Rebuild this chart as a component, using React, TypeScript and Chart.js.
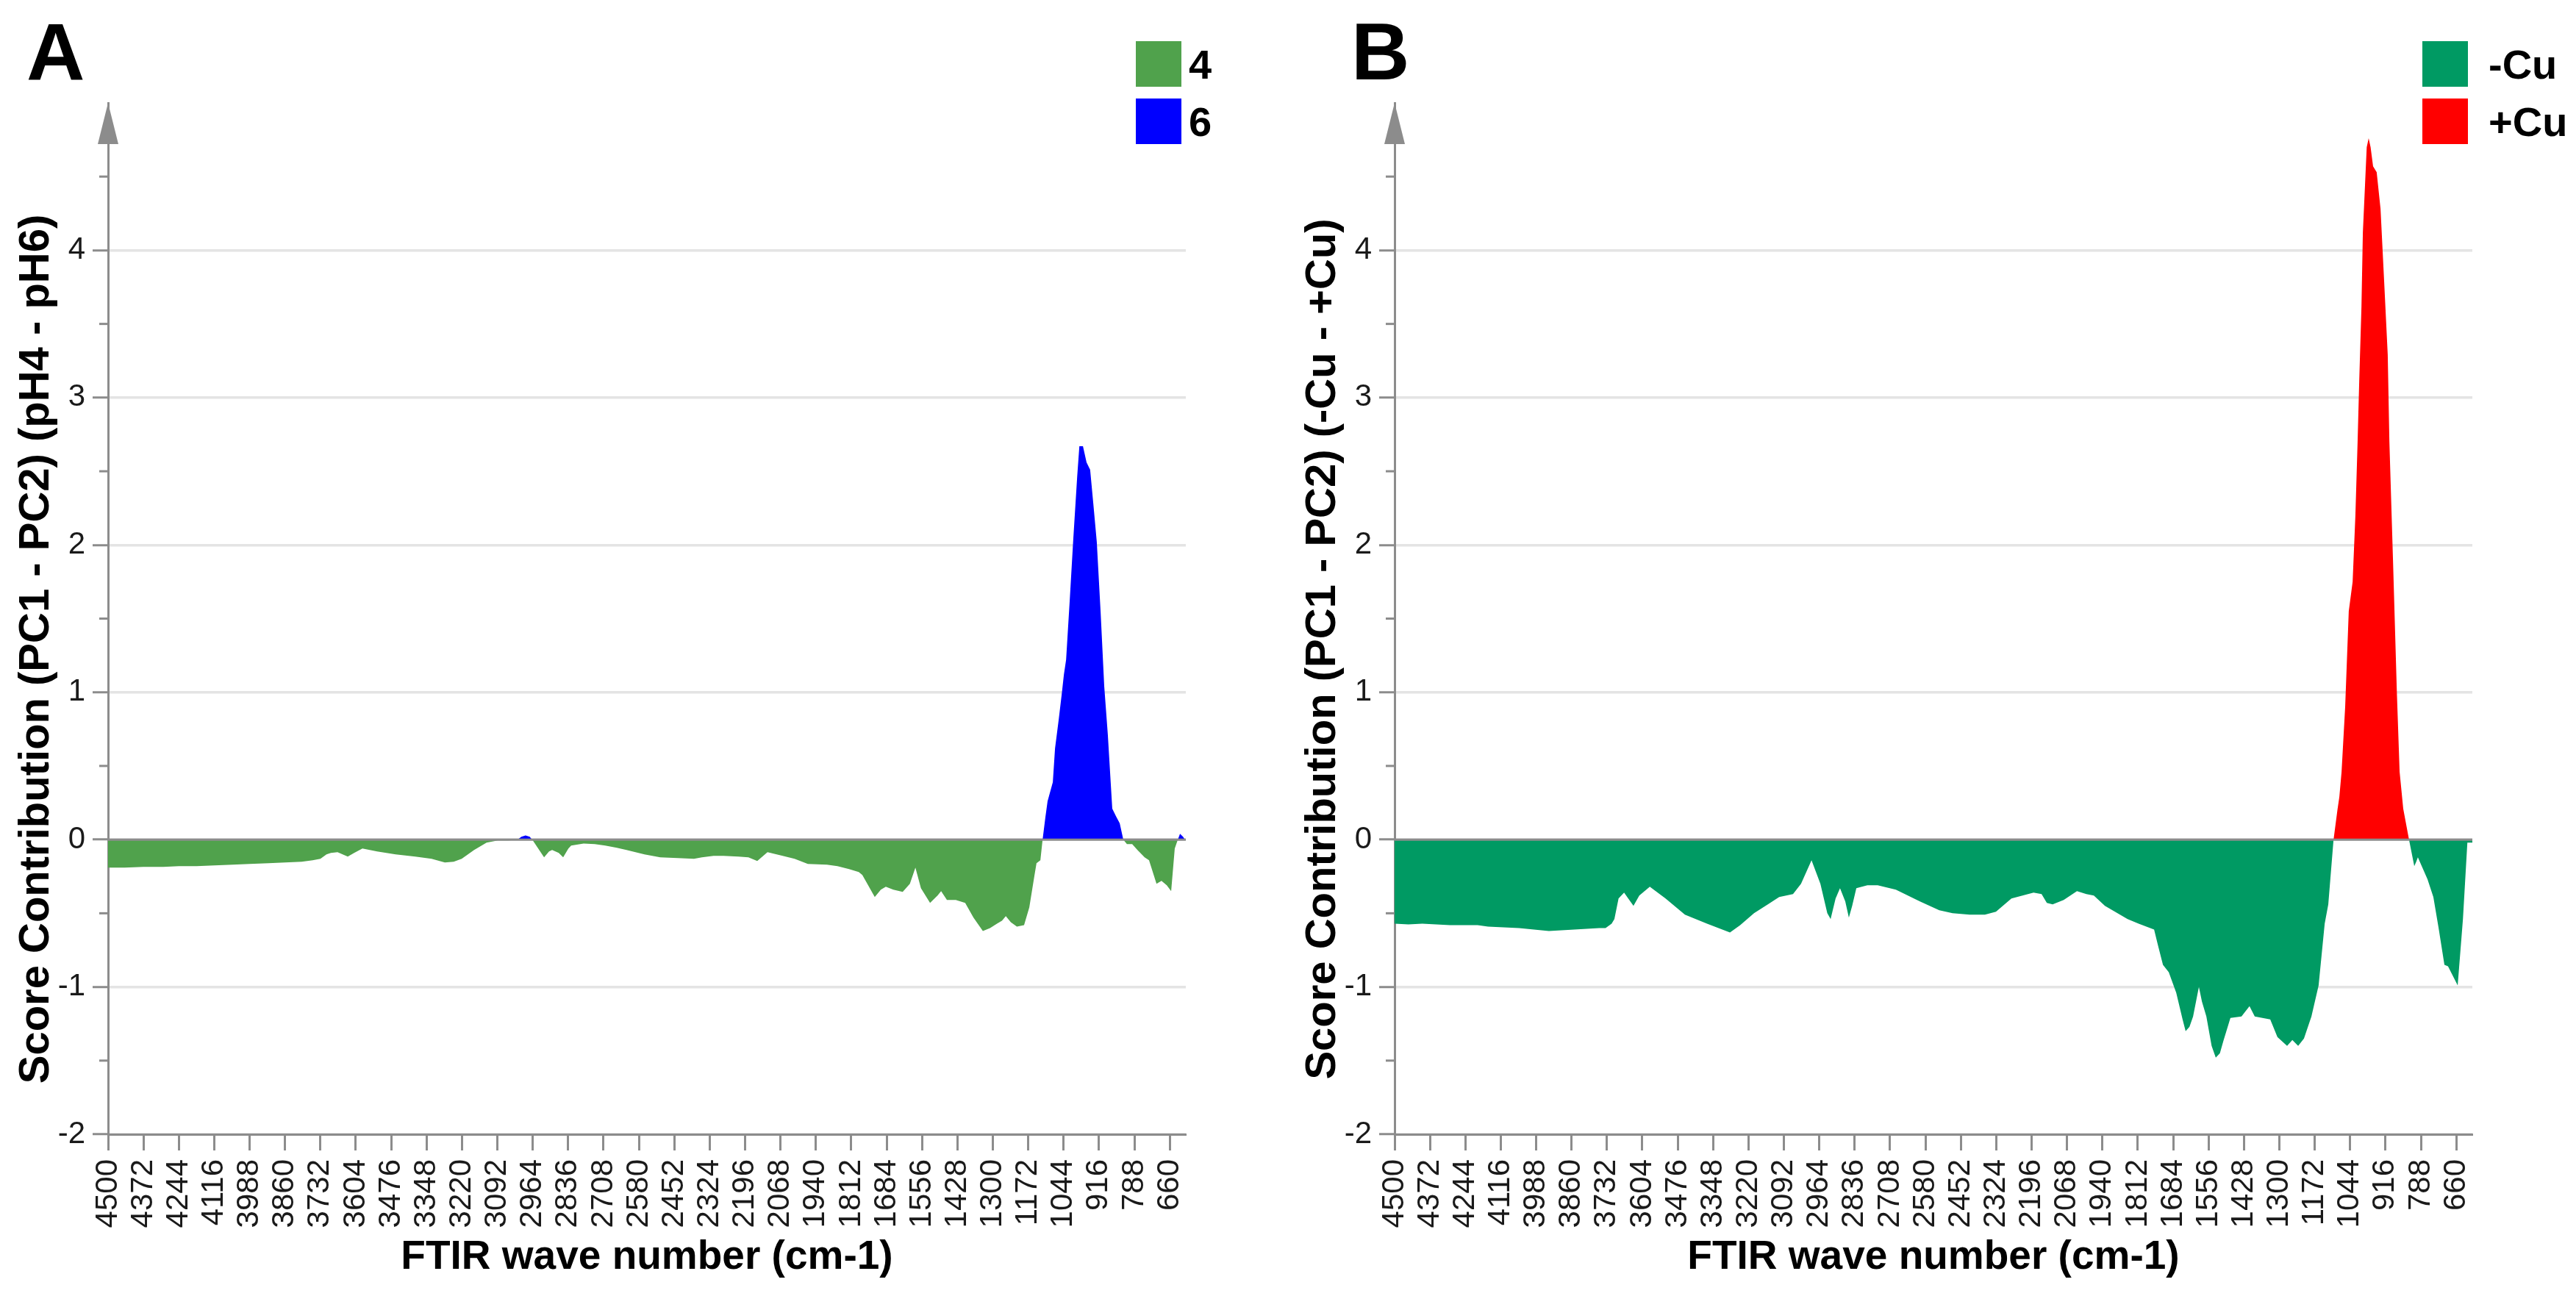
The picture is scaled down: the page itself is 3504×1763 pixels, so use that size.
import React, { useEffect, useRef } from 'react';
import { Chart, registerables } from 'chart.js';

Chart.register(...registerables);

// ---------------- data ----------------
const xTickLabels = [4500, 4372, 4244, 4116, 3988, 3860, 3732, 3604, 3476, 3348, 3220, 3092, 2964, 2836, 2708, 2580, 2452, 2324, 2196, 2068, 1940, 1812, 1684, 1556, 1428, 1300, 1172, 1044, 916, 788, 660];
const yTickValues = [-2, -1.5, -1, -0.5, 0, 0.5, 1, 1.5, 2, 2.5, 3, 3.5, 4, 4.5];

// [wave number, score contribution]
const pointsA: [number, number][] = [
  [4500, -0.19], [4440, -0.19], [4372, -0.185], [4300, -0.185], [4244, -0.18], [4180, -0.18], [4116, -0.175],
  [4050, -0.17], [3988, -0.165], [3920, -0.16], [3860, -0.155], [3800, -0.15], [3760, -0.14], [3732, -0.13],
  [3710, -0.10], [3694, -0.09], [3670, -0.085], [3633, -0.115], [3610, -0.09], [3580, -0.06], [3527, -0.08],
  [3460, -0.10], [3389, -0.115], [3330, -0.13], [3282, -0.155], [3250, -0.15], [3221, -0.13], [3176, -0.07],
  [3131, -0.02], [3090, -0.006], [3053, -0.005], [3020, -0.002], [3005, 0.02], [2990, 0.028], [2975, 0.02],
  [2962, -0.01], [2923, -0.12], [2905, -0.08], [2894, -0.07], [2870, -0.09], [2854, -0.12], [2835, -0.06],
  [2825, -0.04], [2780, -0.027], [2740, -0.03], [2702, -0.04], [2660, -0.055], [2625, -0.07], [2560, -0.10],
  [2503, -0.12], [2440, -0.125], [2381, -0.13], [2352, -0.12], [2310, -0.11], [2274, -0.11], [2220, -0.115],
  [2184, -0.12], [2152, -0.145], [2115, -0.085], [2060, -0.11], [2017, -0.13], [1969, -0.165], [1900, -0.17],
  [1862, -0.18], [1820, -0.20], [1785, -0.22], [1772, -0.24], [1727, -0.39], [1705, -0.34], [1687, -0.32],
  [1660, -0.34], [1626, -0.355], [1600, -0.30], [1580, -0.19], [1560, -0.33], [1527, -0.43], [1500, -0.38],
  [1487, -0.35], [1466, -0.41], [1434, -0.41], [1400, -0.43], [1370, -0.53], [1336, -0.62], [1310, -0.60],
  [1285, -0.57], [1267, -0.55], [1253, -0.52], [1235, -0.56], [1213, -0.59], [1187, -0.58], [1168, -0.46],
  [1150, -0.25], [1142, -0.16], [1128, -0.14], [1120, 0], [1110, 0.15], [1102, 0.26], [1083, 0.39],
  [1075, 0.62], [1062, 0.81], [1050, 1.0], [1043, 1.12], [1035, 1.22], [1022, 1.62], [1009, 2.04],
  [995, 2.46], [987, 2.67], [974, 2.67], [961, 2.56], [948, 2.51], [937, 2.29], [924, 2.02], [910, 1.54],
  [897, 1.04], [884, 0.71], [868, 0.21], [855, 0.16], [841, 0.11], [828, 0], [815, -0.03], [796, -0.03],
  [777, -0.07], [751, -0.12], [735, -0.14], [708, -0.30], [690, -0.28], [671, -0.31], [655, -0.35],
  [642, -0.06], [631, 0], [623, 0.04], [612, 0.02], [605, 0],
];

const pointsB: [number, number][] = [
  [4500, -0.57], [4450, -0.575], [4400, -0.57], [4300, -0.58], [4200, -0.58], [4162, -0.59], [4050, -0.60],
  [3942, -0.62], [3850, -0.61], [3760, -0.60], [3737, -0.60], [3715, -0.57], [3705, -0.54], [3690, -0.40],
  [3670, -0.36], [3655, -0.40], [3636, -0.45], [3615, -0.38], [3577, -0.32], [3520, -0.40], [3450, -0.51],
  [3370, -0.57], [3287, -0.63], [3250, -0.58], [3200, -0.50], [3150, -0.44], [3109, -0.39], [3059, -0.37],
  [3030, -0.30], [2992, -0.14], [2960, -0.30], [2935, -0.50], [2923, -0.54], [2905, -0.40], [2889, -0.33],
  [2870, -0.42], [2857, -0.53], [2845, -0.45], [2830, -0.33], [2790, -0.31], [2753, -0.31], [2687, -0.34],
  [2600, -0.42], [2530, -0.48], [2482, -0.50], [2420, -0.51], [2365, -0.51], [2325, -0.49], [2269, -0.40],
  [2189, -0.36], [2160, -0.37], [2141, -0.43], [2120, -0.44], [2080, -0.41], [2032, -0.35], [1998, -0.37],
  [1971, -0.38], [1931, -0.45], [1849, -0.54], [1809, -0.57], [1753, -0.61], [1740, -0.71], [1721, -0.85],
  [1700, -0.90], [1673, -1.04], [1650, -1.22], [1639, -1.30], [1625, -1.27], [1612, -1.20], [1591, -1.00],
  [1580, -1.10], [1564, -1.20], [1545, -1.40], [1530, -1.48], [1515, -1.45], [1503, -1.37], [1477, -1.21],
  [1437, -1.20], [1408, -1.13], [1389, -1.20], [1333, -1.22], [1307, -1.34], [1272, -1.40], [1253, -1.36],
  [1232, -1.40], [1211, -1.35], [1184, -1.20], [1158, -0.99], [1136, -0.57], [1123, -0.44], [1104, 0],
  [1090, 0.2], [1083, 0.29], [1075, 0.46], [1062, 0.9], [1049, 1.55], [1035, 1.75], [1025, 2.2],
  [1017, 2.7], [1011, 3.12], [1003, 3.62], [998, 4.12], [990, 4.45], [984, 4.7], [977, 4.76], [970, 4.7],
  [961, 4.57], [948, 4.53], [934, 4.28], [921, 3.79], [908, 3.29], [902, 2.70], [889, 1.9], [875, 1.0],
  [865, 0.46], [852, 0.21], [831, 0], [812, -0.18], [805, -0.15], [799, -0.12], [764, -0.27], [743, -0.39],
  [724, -0.60], [703, -0.85], [690, -0.86], [655, -0.99], [636, -0.54], [620, -0.02], [602, -0.02],
];

const legendLabelsA = ['4', '6'];
const legendLabelsB = ['-Cu', '+Cu'];
const colorsA = { below: '#50a24c', above: '#0000ff' };
const colorsB = { below: '#009a63', above: '#ff0000' };
const yTitleA = 'Score Contribution (PC1 - PC2) (pH4 - pH6)';
const yTitleB = 'Score Contribution (PC1 - PC2) (-Cu - +Cu)';
const xTitle = 'FTIR wave number (cm-1)';

// ---------------- style ----------------
const FAMILY = '"Liberation Sans", Arial, Helvetica, sans-serif';
const AXIS_GRAY = '#8c8c8c';
const GRID_GRAY = '#e4e4e4';
const PANEL_W = 1752;
const PANEL_H = 1763;

type PanelProps = {
  letter: string;
  letterX: number;
  points: [number, number][];
  colors: { below: string; above: string };
  legend: string[];
  legendTextX: number;
  yTitle: string;
  left: number;
};

function Panel({ letter, letterX, points, colors, legend, legendTextX, yTitle, left }: PanelProps) {
  const ref = useRef<HTMLCanvasElement>(null);

  useEffect(() => {
    const canvas = ref.current;
    if (!canvas) return;

    const decor = {
      id: 'decor',
      afterDatasetsDraw(chart: any) {
        const { ctx, chartArea } = chart;
        const y0 = chart.scales.y.getPixelForValue(0);
        ctx.save();
        ctx.strokeStyle = AXIS_GRAY;
        ctx.lineWidth = 3;
        ctx.beginPath();
        ctx.moveTo(chartArea.left, y0);
        ctx.lineTo(chartArea.right, y0);
        ctx.stroke();
        ctx.restore();
      },
      afterDraw(chart: any) {
        const { ctx, chartArea } = chart;
        const ys = chart.scales.y;
        const L = chartArea.left;
        ctx.save();
        // minor ticks
        ctx.strokeStyle = AXIS_GRAY;
        ctx.lineWidth = 3;
        yTickValues.forEach((v) => {
          if (Number.isInteger(v)) return;
          const py = ys.getPixelForValue(v);
          ctx.beginPath();
          ctx.moveTo(L - 12, py);
          ctx.lineTo(L, py);
          ctx.stroke();
        });
        // arrow head on y axis
        ctx.fillStyle = AXIS_GRAY;
        ctx.beginPath();
        ctx.moveTo(L, chartArea.top);
        ctx.lineTo(L - 14, chartArea.top + 56);
        ctx.lineTo(L + 14, chartArea.top + 56);
        ctx.closePath();
        ctx.fill();
        // y-axis title
        ctx.save();
        ctx.translate(50, 883);
        ctx.rotate(-Math.PI / 2);
        ctx.fillStyle = '#000';
        ctx.textAlign = 'center';
        ctx.textBaseline = 'middle';
        ctx.font = `bold 58px ${FAMILY}`;
        ctx.fillText(yTitle, 0, 0);
        ctx.restore();
        // panel letter
        ctx.fillStyle = '#000';
        ctx.textBaseline = 'alphabetic';
        ctx.textAlign = 'left';
        ctx.font = `bold 110px ${FAMILY}`;
        ctx.fillText(letter, letterX, 108);
        // legend
        const sw = [colors.below, colors.above];
        ctx.font = `bold 56px ${FAMILY}`;
        legend.forEach((lab, i) => {
          const top = 56 + i * 78;
          ctx.fillStyle = sw[i];
          ctx.fillRect(1545, top, 62, 62);
          ctx.fillStyle = '#000';
          ctx.fillText(lab, legendTextX, top + 51);
        });
        ctx.restore();
      },
    };

    const chart = new Chart(canvas, {
      type: 'line',
      data: {
        datasets: [
          {
            data: points.map(([x, y]) => ({ x, y })),
            borderColor: 'rgba(0,0,0,0)',
            borderWidth: 0,
            pointRadius: 0,
            tension: 0,
            fill: { target: 'origin', above: colors.above, below: colors.below },
          } as any,
        ],
      },
      options: {
        animation: false,
        responsive: false,
        devicePixelRatio: 1,
        events: [],
        layout: { padding: { left: 0, top: 140, right: 139, bottom: 0 } },
        plugins: { legend: { display: false }, tooltip: { enabled: false } },
        scales: {
          x: {
            type: 'linear',
            reverse: true,
            min: 602,
            max: 4500,
            afterBuildTicks: (s: any) => {
              s.ticks = xTickLabels.map((v) => ({ value: v }));
            },
            afterFit: (s: any) => {
              s.height = 220;
            },
            ticks: {
              autoSkip: false,
              minRotation: 90,
              maxRotation: 90,
              padding: 12,
              color: '#1a1a1a',
              font: { family: FAMILY, size: 42 },
              callback: (v: any) => String(v),
            },
            grid: { drawOnChartArea: false, drawTicks: true, tickLength: 22, tickColor: AXIS_GRAY, tickWidth: 3 },
            border: { display: true, color: AXIS_GRAY, width: 3 },
            title: {
              display: true,
              text: xTitle,
              color: '#000',
              font: { family: FAMILY, size: 55, weight: 'bold' },
              padding: { top: 0, bottom: 19 },
            },
          },
          y: {
            type: 'linear',
            min: -2,
            max: 5,
            afterBuildTicks: (s: any) => {
              s.ticks = yTickValues.map((v) => ({ value: v }));
            },
            afterFit: (s: any) => {
              s.width = 147;
            },
            ticks: {
              padding: 10,
              color: '#1a1a1a',
              font: { family: FAMILY, size: 42 },
              callback: (v: any) => (Number.isInteger(v) ? String(v) : ''),
            },
            grid: {
              color: (c: any) => (c.tick && Number.isInteger(c.tick.value) ? GRID_GRAY : 'rgba(0,0,0,0)'),
              lineWidth: 3.5,
              drawTicks: true,
              tickLength: 21,
              tickWidth: 3,
              tickColor: (c: any) => (c.tick && Number.isInteger(c.tick.value) ? AXIS_GRAY : 'rgba(0,0,0,0)'),
            },
            border: { display: true, color: AXIS_GRAY, width: 3 },
            title: { display: false },
          },
        },
      } as any,
      plugins: [decor],
    });

    return () => chart.destroy();
  }, []);

  return (
    <canvas
      ref={ref}
      width={PANEL_W}
      height={PANEL_H}
      style={{ position: 'absolute', left, top: 0, width: PANEL_W, height: PANEL_H }}
    />
  );
}

export default function App() {
  return (
    <div style={{ position: 'absolute', left: 0, top: 0, width: 3504, height: 1763, background: '#fff', overflow: 'hidden' }}>
      <Panel letter="A" letterX={36} points={pointsA} colors={colorsA} legend={legendLabelsA} legendTextX={1617} yTitle={yTitleA} left={0} />
      <Panel letter="B" letterX={88} points={pointsB} colors={colorsB} legend={legendLabelsB} legendTextX={1635} yTitle={yTitleB} left={1750} />
    </div>
  );
}
